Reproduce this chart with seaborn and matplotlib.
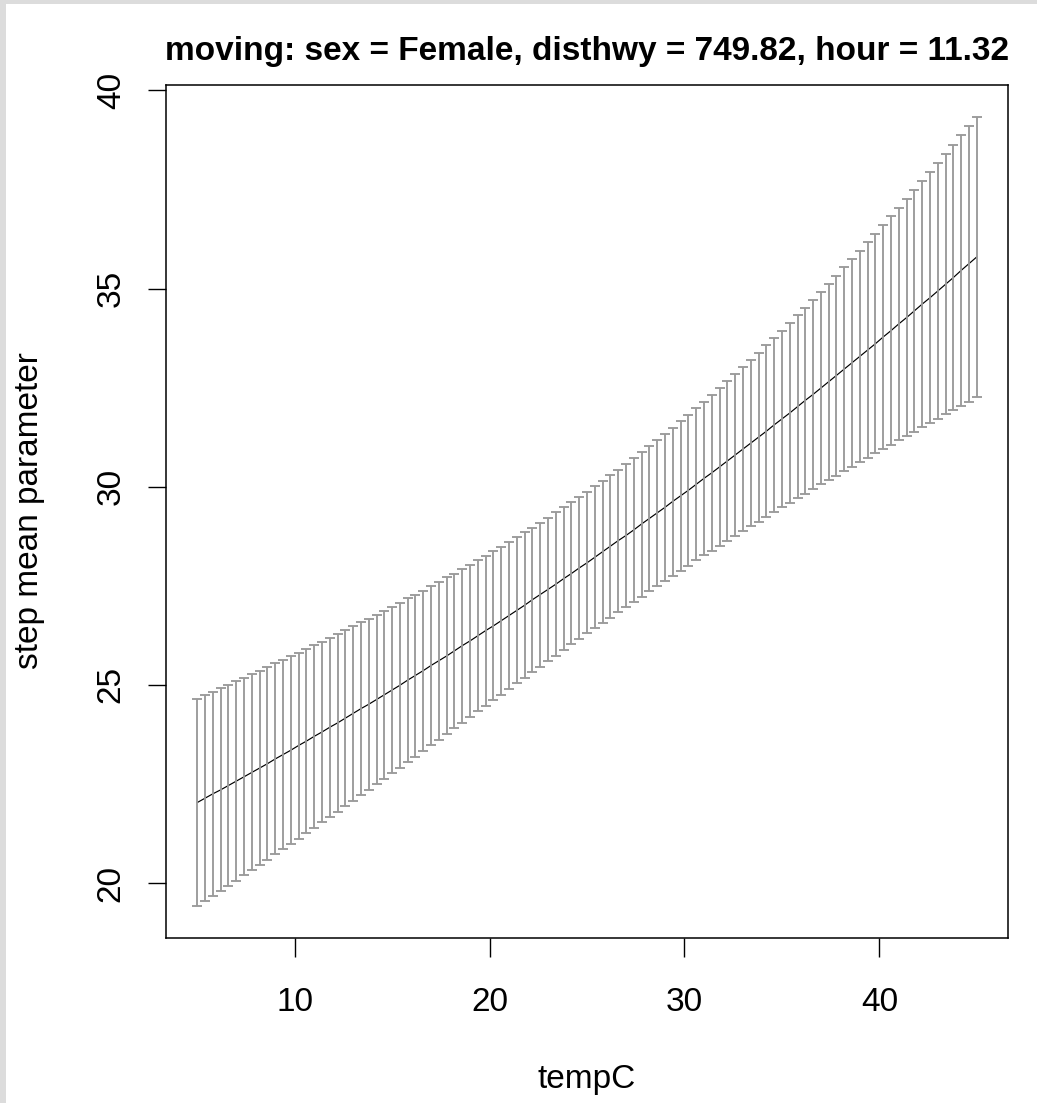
import matplotlib
matplotlib.use("Agg")
import matplotlib.pyplot as plt
from matplotlib.patches import Rectangle
import seaborn as sns
import pandas as pd
import numpy as np

# ---- data ----
temp_c = [5.0, 5.4, 5.8, 6.2, 6.6, 7.0, 7.4, 7.8, 8.2, 8.6,
          9.0, 9.4, 9.8, 10.2, 10.6, 11.0, 11.4, 11.8, 12.2, 12.6,
          13.0, 13.4, 13.8, 14.2, 14.6, 15.0, 15.4, 15.8, 16.2, 16.6,
          17.0, 17.4, 17.8, 18.2, 18.6, 19.0, 19.4, 19.8, 20.2, 20.6,
          21.0, 21.4, 21.8, 22.2, 22.6, 23.0, 23.4, 23.8, 24.2, 24.6,
          25.0, 25.4, 25.8, 26.2, 26.6, 27.0, 27.4, 27.8, 28.2, 28.6,
          29.0, 29.4, 29.8, 30.2, 30.6, 31.0, 31.4, 31.8, 32.2, 32.6,
          33.0, 33.4, 33.8, 34.2, 34.6, 35.0, 35.4, 35.8, 36.2, 36.6,
          37.0, 37.4, 37.8, 38.2, 38.6, 39.0, 39.4, 39.8, 40.2, 40.6,
          41.0, 41.4, 41.8, 42.2, 42.6, 43.0, 43.4, 43.8, 44.2, 44.6,
          45.0]

step_mean = [22.03, 22.14, 22.25, 22.35, 22.46, 22.57, 22.68, 22.79, 22.90, 23.01,
             23.13, 23.24, 23.35, 23.47, 23.58, 23.70, 23.81, 23.93, 24.04, 24.16,
             24.28, 24.40, 24.51, 24.63, 24.75, 24.87, 24.99, 25.12, 25.24, 25.36,
             25.49, 25.61, 25.73, 25.86, 25.99, 26.11, 26.24, 26.37, 26.49, 26.62,
             26.75, 26.88, 27.01, 27.15, 27.28, 27.41, 27.54, 27.68, 27.81, 27.95,
             28.08, 28.22, 28.36, 28.50, 28.64, 28.77, 28.91, 29.06, 29.20, 29.34,
             29.48, 29.63, 29.77, 29.91, 30.06, 30.21, 30.35, 30.50, 30.65, 30.80,
             30.95, 31.10, 31.25, 31.40, 31.56, 31.71, 31.86, 32.02, 32.18, 32.33,
             32.49, 32.65, 32.81, 32.97, 33.13, 33.29, 33.45, 33.61, 33.78, 33.94,
             34.11, 34.27, 34.44, 34.61, 34.77, 34.94, 35.11, 35.28, 35.46, 35.63,
             35.80]

upper_ci = [24.65, 24.74, 24.82, 24.91, 25.00, 25.09, 25.18, 25.27, 25.35, 25.45,
            25.54, 25.63, 25.72, 25.81, 25.90, 26.00, 26.09, 26.19, 26.28, 26.38,
            26.48, 26.58, 26.67, 26.77, 26.87, 26.97, 27.07, 27.18, 27.28, 27.38,
            27.49, 27.60, 27.71, 27.81, 27.92, 28.03, 28.15, 28.26, 28.37, 28.49,
            28.61, 28.73, 28.85, 28.97, 29.09, 29.22, 29.35, 29.48, 29.61, 29.74,
            29.87, 30.01, 30.15, 30.29, 30.43, 30.57, 30.72, 30.87, 31.02, 31.18,
            31.33, 31.49, 31.65, 31.81, 31.98, 32.14, 32.31, 32.49, 32.66, 32.84,
            33.01, 33.20, 33.38, 33.57, 33.75, 33.94, 34.13, 34.33, 34.52, 34.72,
            34.92, 35.12, 35.33, 35.54, 35.74, 35.95, 36.17, 36.38, 36.60, 36.82,
            37.03, 37.26, 37.48, 37.71, 37.94, 38.16, 38.40, 38.63, 38.87, 39.11,
            39.34]

lower_ci = [19.41, 19.54, 19.67, 19.80, 19.93, 20.05, 20.19, 20.32, 20.45, 20.58,
            20.72, 20.85, 20.98, 21.12, 21.25, 21.39, 21.53, 21.66, 21.80, 21.94,
            22.08, 22.21, 22.35, 22.49, 22.63, 22.77, 22.91, 23.05, 23.19, 23.34,
            23.48, 23.62, 23.76, 23.90, 24.05, 24.19, 24.33, 24.47, 24.61, 24.75,
            24.90, 25.04, 25.18, 25.32, 25.46, 25.60, 25.74, 25.88, 26.02, 26.16,
            26.30, 26.43, 26.57, 26.70, 26.84, 26.97, 27.10, 27.23, 27.37, 27.50,
            27.63, 27.76, 27.88, 28.01, 28.14, 28.27, 28.39, 28.51, 28.64, 28.76,
            28.88, 29.00, 29.12, 29.24, 29.36, 29.48, 29.59, 29.71, 29.82, 29.94,
            30.06, 30.17, 30.28, 30.40, 30.51, 30.62, 30.73, 30.84, 30.95, 31.06,
            31.18, 31.28, 31.39, 31.50, 31.61, 31.72, 31.83, 31.93, 32.04, 32.15,
            32.26]

x_ticks = [10, 20, 30, 40]
y_ticks = [20, 25, 30, 35, 40]
title_text = "moving: sex = Female, disthwy = 749.82, hour = 11.32"
x_label = "tempC"
y_label = "step mean parameter"

df = pd.DataFrame({"tempC": temp_c, "mean": step_mean,
                   "lower": lower_ci, "upper": upper_ci})

# ---- style ----
sns.set_style("ticks")
plt.rcParams["font.family"] = ["Liberation Sans", "DejaVu Sans"]

W, H = 1037, 1103
fig = plt.figure(figsize=(W / 100, H / 100), dpi=100)
fig.patch.set_facecolor("white")

# light grey screenshot border (left and top)
fig.add_artist(Rectangle((0, 0), 6 / W, 1, transform=fig.transFigure,
                         facecolor="#dcdcdc", edgecolor="none", zorder=0))
fig.add_artist(Rectangle((0, 1 - 4 / H), 1, 4 / H, transform=fig.transFigure,
                         facecolor="#dcdcdc", edgecolor="none", zorder=0))

ax = fig.add_axes([166 / W, (H - 938) / H, 842 / W, 853 / H])
ax.set_facecolor("white")

# mean line
sns.lineplot(data=df, x="tempC", y="mean", color="black", linewidth=0.85,
             ax=ax, zorder=2, legend=False)

# error bars (drawn over the line, as in the reference)
ax.errorbar(df["tempC"], df["mean"],
            yerr=[df["mean"] - df["lower"], df["upper"] - df["mean"]],
            fmt="none", ecolor="#9a9a9a", elinewidth=1.35, capsize=3.4,
            capthick=1.35, zorder=3)

# R-style 4% axis extension
xr = max(temp_c) - min(temp_c)
ax.set_xlim(min(temp_c) - 0.04 * xr, max(temp_c) + 0.04 * xr)
yr = max(upper_ci) - min(lower_ci)
ax.set_ylim(min(lower_ci) - 0.04 * yr, max(upper_ci) + 0.04 * yr)

ax.set_xticks(x_ticks)
ax.set_yticks(y_ticks)
ax.set_xticklabels([str(v) for v in x_ticks])
ax.set_yticklabels([str(v) for v in y_ticks], rotation=90, va="center")

ax.tick_params(axis="x", direction="out", length=13.7, width=1.0,
               pad=21.5, labelsize=24, bottom=True, colors="black")
ax.tick_params(axis="y", direction="out", length=13.2, width=1.0,
               pad=15, labelsize=24, left=True, colors="black")

for sp in ax.spines.values():
    sp.set_visible(True)
    sp.set_color("black")
    sp.set_linewidth(1.1)

ax.set_xlabel("")
ax.set_ylabel("")
ax.set_title(title_text, fontsize=24, fontweight="bold", pad=18, color="black")

fig.text(587 / W, (H - 1088) / H, x_label, ha="center", va="baseline",
         fontsize=24, color="black")
fig.text(30 / W, (H - 511) / H, y_label, ha="center", va="center",
         rotation=90, fontsize=24, color="black")

fig.savefig("out.png", dpi=100, facecolor="white")
